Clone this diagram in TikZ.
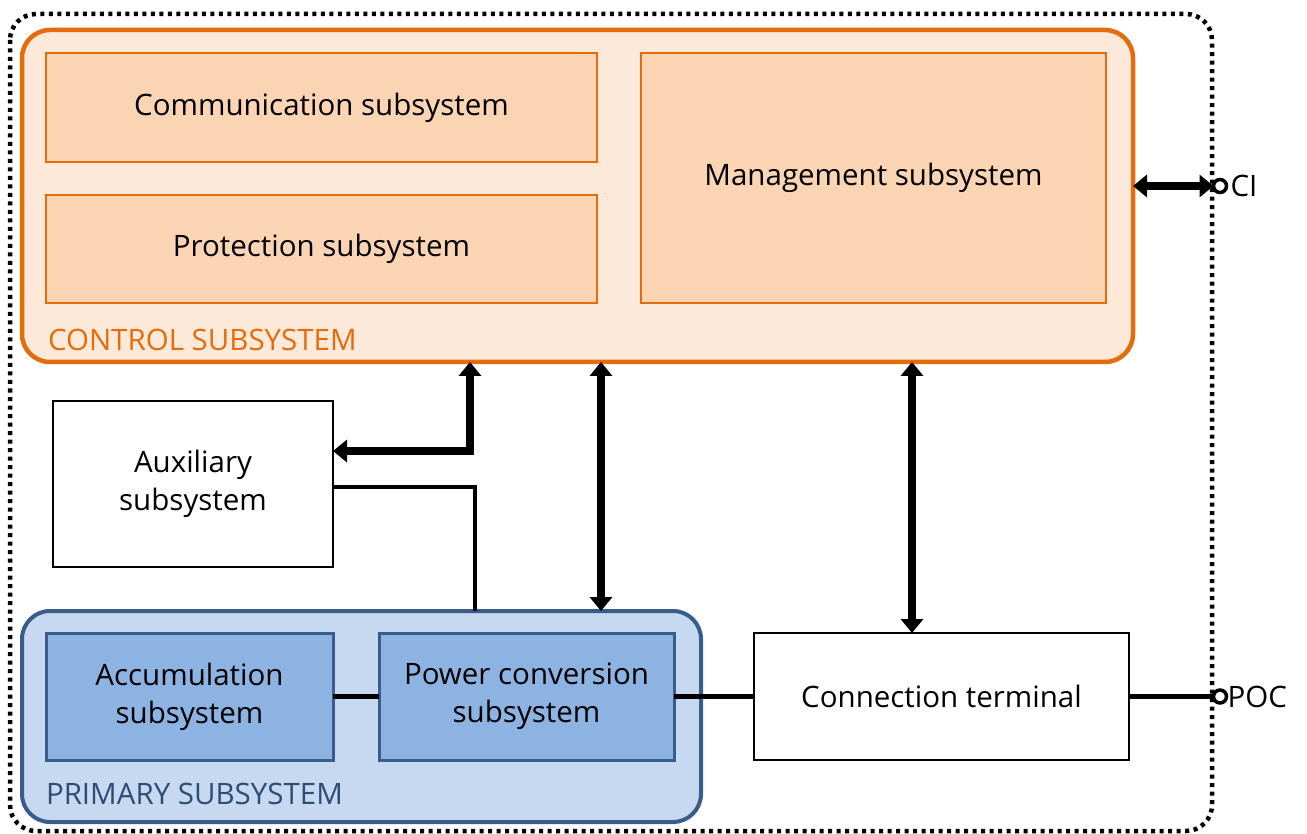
\documentclass[tikz,border=0pt]{standalone}
\usepackage{fontspec}
\setmainfont{Open Sans}
\usetikzlibrary{arrows.meta,calc}
\definecolor{ctlfill}{HTML}{FDE9D9}
\definecolor{ctlbox}{HTML}{FBD4B4}
\definecolor{ctlline}{HTML}{E46C0A}
\definecolor{prifill}{HTML}{C6D9F1}
\definecolor{pribox}{HTML}{8DB3E2}
\definecolor{priline}{HTML}{385D8A}
\definecolor{prilabel}{HTML}{2E4C74}
\tikzset{
  every node/.style={font=\fontsize{29.5}{38}\selectfont, inner sep=0pt, outer sep=0pt},
  group/.style={rounded corners=28pt, line width=4.5pt},
  ctlsub/.style={draw=ctlline, fill=ctlbox, line width=2.8pt},
  prisub/.style={draw=priline, fill=pribox, line width=3pt},
  plainbox/.style={draw=black, fill=white, line width=2.8pt},
  busarrow/.style={line width=8.5pt, {Triangle[width=22pt,length=14pt]}-{Triangle[width=22pt,length=14pt]}},
  wire/.style={line width=4.2pt},
  terminal/.style={circle, draw=black, fill=white, line width=3.5pt, minimum size=13pt},
  grouplabel/.style={anchor=base west},
  lowered/.style={text depth=0pt, yshift=-3pt},
}
\begin{document}
\begin{tikzpicture}[x=1pt,y=-1pt]
\useasboundingbox (0,0) rectangle (1307,834);
% outer boundary of the whole system
\draw[line width=4.5pt, dash pattern=on 4pt off 4.5pt, rounded corners=26pt] (10,14) rectangle (1212,831);

% control subsystem group
\node[group, draw=ctlline, fill=ctlfill, minimum width=1111pt, minimum height=332pt] (control) at (577.5,196) {};
\node[grouplabel, text=ctlline] (ctllabel) at (48,351) {CONTROL SUBSYSTEM};
\node[ctlsub, minimum width=551pt, minimum height=109pt] (comm) at (321.5,107.5) {\raisebox{-3pt}{Communication subsystem}};
\node[ctlsub, minimum width=551pt, minimum height=108pt] (prot) at (321.5,249) {\raisebox{-3pt}{Protection subsystem}};
\node[ctlsub, minimum width=465pt, minimum height=250pt] (mgmt) at (873.5,178) {\raisebox{-4pt}{Management subsystem}};

% primary subsystem group
\node[group, draw=priline, fill=prifill, line width=4pt, minimum width=679pt, minimum height=211pt] (primary) at (361.5,716.5) {};
\node[grouplabel, text=prilabel] (prilabel) at (46,804) {PRIMARY SUBSYSTEM};
\node[prisub, minimum width=287pt, minimum height=127pt, align=center] (accu) at (189.5,696.5) {Accumulation\\subsystem};
\node[prisub, minimum width=295pt, minimum height=127pt, align=center] (pconv) at (526.5,696.5) {Power conversion\\subsystem};

% stand-alone blocks
\node[plainbox, minimum width=280pt, minimum height=166pt, align=center] (aux) at (193,484) {Auxiliary\\subsystem};
\node[plainbox, minimum width=375pt, minimum height=127pt] (conn) at (941.5,696.5) {Connection terminal};

% external terminals
\node[terminal] (ci) at (1220,186) {};
\node[anchor=west] (cilabel) at (ci.east) {\hspace{4pt}CI};
\node[terminal] (poc) at (1220,696.5) {};
\node[anchor=west] (poclabel) at (poc.east) {\hspace{1pt}POC};

% internal wiring
\draw[wire] (accu.east) -- (pconv.west);
\draw[wire] (pconv.east) -- (conn.west);
\draw[wire] (conn.east) -- (poc.west);
\draw[wire] (aux.east |- 0,487) -| (primary.north -| 475,0);

% control/data buses
\draw[busarrow] (control.east |- ci) -- (ci.west);
\draw[busarrow] (control.south -| 470,0) |- (aux.east |- 0,451);
\draw[busarrow] (control.south -| 601,0) -- (primary.north -| 601,0);
\draw[busarrow] (control.south -| 912,0) -- (conn.north -| 912,0);
\end{tikzpicture}
\end{document}
